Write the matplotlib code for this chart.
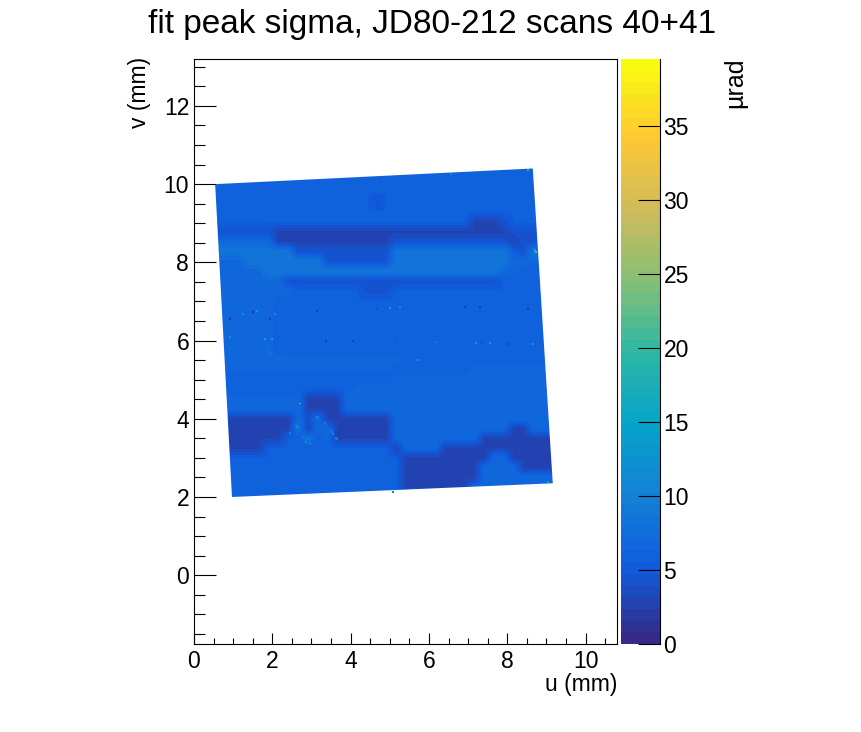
import matplotlib
matplotlib.use("Agg")
import matplotlib.pyplot as plt
import numpy as np
from matplotlib.colors import LinearSegmentedColormap, Normalize
from matplotlib.patches import Polygon
from matplotlib.ticker import MultipleLocator

plt.rcParams['font.family'] = ['Liberation Sans', 'DejaVu Sans']

# ROOT kBird palette
bird_colors = [(0.2082, 0.1664, 0.5293), (0.0592, 0.3599, 0.8684), (0.0780, 0.5041, 0.8385),
               (0.0232, 0.6419, 0.7914), (0.1802, 0.7178, 0.6425), (0.5301, 0.7492, 0.4662),
               (0.8186, 0.7328, 0.3499), (0.9956, 0.7862, 0.1968), (0.9764, 0.9832, 0.0539)]

z_max = 39.5
z_ticks = [0, 5, 10, 15, 20, 25, 30, 35]

# sigma map, letters are levels in urad
levels = {'a': 3.0, 'b': 4.4, 'c': 5.6, 'd': 6.8, 'e': 8.6}
map_rows = [
    "ccccccccccccccccccccccccccccccccccc",
    "ccccccccccccccccccccccccccccccccccc",
    "ccccccccccccccccccccccccccccccccccc",
    "ccccccccccccccccbcccccccccccccccccc",
    "ccccccccccccccccccccccccccccccccccc",
    "ccccccccccccccccccccccccccaaabccccc",
    "bbbbbbaaaaaaaaaaaaaaaaaaaaaaaabbbcc",
    "ddddddaaaaaaaaaaaabbbbbbbbbbbbabbcc",
    "eeeeeeeebbbbbbbbbbeeeeeeeeeeeecbecc",
    "dddeeeeeeeebbbbbbbeeeeeeeeeeeedddcc",
    "dddddeeeeeeeeeeeeeeeeeeeeeeeeddcccc",
    "dddddddbbbbbbbbbbbbbbbbbbbbbbcccccc",
    "ddddddddcccccccbbbccccccccccccccccc",
    "ddddddccccccccccccccccccccccccccccc",
    "ddddddccccccccccccccccccccccccccccc",
    "ddddddccccccccccccccccccccccccccccc",
    "ddddddccccccccccccccccccccccccccccc",
    "ddddddccccccccccccccccccccccccccccc",
    "ddddddccccccccccccccccccccccccccccc",
    "dddddddddddddddddddcccccccccccccccc",
    "ddddddddddddddddddccccccccddddddddd",
    "ccccccccccccccccccddddddddddddddddd",
    "ccccccccccccccddddddddddddddddddddd",
    "dddddddddaaaadddddddddddddddddddddd",
    "dddddddddaaaadddddddddddddddddddddd",
    "daaaaaaadbdaaaaaaaddddddddddddddddd",
    "daaaaaaaeaddaaaaaaddddddddddddaaddd",
    "caaaaaaccecdaaaaaadddddddddaaaaaaaa",
    "caaaacccccccccccccaddddaaaaaaaaaaaa",
    "cccccccccccccccccccaaaaaaaaaddaaaaa",
    "cccccccccccccccccccaaaaaaaaddddaaaa",
    "cccccccccccccccccccaaaaaaaadddddddd",
    "cccccccccccccccccccaaaaaaaddddddddd",
    "ccccccccccccccccccccccccccccccccccc",
]
map_u_range = (0.536, 9.286)
map_v_range = (1.88, 10.40)

# corners of the crystal in (u, v)
corner_u = [0.54, 8.65, 9.16, 0.97]
corner_v = [10.0, 10.4, 2.35, 2.0]

# hot and dead pixels
spot_u = [8.53, 8.74, 8.70, 9.04, 2.70, 0.58, 2.62, 2.87, 3.13, 3.55, 5.72, 6.57, 5.08,
          1.26, 1.60, 2.07, 0.92, 1.51, 3.13, 5.00, 5.26, 4.66, 6.91, 7.30, 8.53, 1.94,
          0.92, 1.81, 2.00, 3.38, 4.06, 5.17, 6.19, 7.21, 7.55, 7.34, 7.98, 8.66]
spot_v = [10.36, 8.27, 8.31, 2.39, 4.39, 9.97, 3.79, 3.41, 4.05, 3.62, 5.50, 10.27, 2.13,
          6.67, 6.75, 6.69, 6.56, 6.72, 6.76, 6.84, 6.86, 6.81, 6.85, 6.86, 6.80, 6.54,
          6.10, 6.05, 6.04, 6.00, 5.98, 5.98, 5.95, 5.94, 5.93, 5.93, 5.92, 5.92]
spot_z = [18, 22, 16, 14, 20, 13, 13, 12, 13, 12, 13, 10, 10,
          14, 14, 13, 1, 1.5, 2, 13, 13, 2, 1.5, 1.5, 1.5, 2,
          13, 14, 15, 2, 2, 2, 13, 14, 13, 2, 2, 13]

# faint lighter veins
vein_u = [2.45, 2.62, 2.79, 2.96, 3.17, 3.34, 3.51, 3.64, 1.90, 1.94, 2.19, 2.19]
vein_v = [3.62, 3.84, 3.54, 3.37, 4.01, 3.88, 3.67, 3.50, 5.84, 5.67, 5.84, 5.58]
vein_z = [9, 9, 9, 9, 9, 9, 9, 9, 8.5, 8.5, 8.5, 8.5]

W, H = 862, 732
cmap = LinearSegmentedColormap.from_list('bird', bird_colors, N=50)
norm = Normalize(0, z_max)

fig = plt.figure(figsize=(W / 100, H / 100), dpi=100)
ax = fig.add_axes([194 / W, 1 - 644 / H, 423 / W, 585 / H])
cax = fig.add_axes([621 / W, 1 - 644 / H, 39 / W, 585 / H])

grid = np.array([[levels[ch] for ch in row] for row in map_rows])
im = ax.imshow(grid, cmap=cmap, norm=norm, aspect='auto', origin='upper',
               extent=(map_u_range[0], map_u_range[1], map_v_range[0], map_v_range[1]),
               interpolation='bilinear', interpolation_stage='data')
im.set_clip_path(Polygon(np.column_stack([corner_u, corner_v]), transform=ax.transData))
ax.scatter(vein_u, vein_v, c=vein_z, cmap=cmap, norm=norm, s=3, marker='s', linewidths=0)
ax.scatter(spot_u, spot_v, c=spot_z, cmap=cmap, norm=norm, s=2, marker='s', linewidths=0)

ax.set_xlim(0, 10.8)
ax.set_ylim(-1.76, 13.2)
ax.xaxis.set_major_locator(MultipleLocator(2))
ax.xaxis.set_minor_locator(MultipleLocator(0.5))
ax.yaxis.set_major_locator(MultipleLocator(2))
ax.yaxis.set_minor_locator(MultipleLocator(0.5))
ax.tick_params(axis='x', which='major', direction='in', length=8, width=0.8, labelsize=16.5, pad=4.5)
ax.tick_params(axis='x', which='minor', direction='in', length=4, width=0.8)
ax.tick_params(axis='y', which='major', direction='in', length=16, width=0.8, labelsize=16.5, pad=3.5)
ax.tick_params(axis='y', which='minor', direction='in', length=8, width=0.8)
for side in ax.spines.values():
    side.set_linewidth(0.8)

cb = fig.colorbar(im, cax=cax)
cb.outline.set_visible(False)
cb.set_ticks(z_ticks)
cax.spines['right'].set_visible(True)
cax.tick_params(axis='y', which='major', direction='in', length=16, width=0.8, labelsize=16.5, pad=2.5)
cax.minorticks_off()

fig.text(432 / W, 1 - 24 / H, 'fit peak sigma, JD80-212 scans 40+41', fontsize=24, ha='center', va='center')
fig.text(617 / W, 1 - 684 / H, 'u (mm)', fontsize=16.5, ha='right', va='center')
fig.text(140 / W, 1 - 57 / H, 'v (mm)', fontsize=16.5, rotation=90, ha='center', va='top')
fig.text(735 / W, 1 - 57 / H, 'µrad', fontsize=18, rotation=90, ha='center', va='top')

fig.savefig('out.png', dpi=100)
